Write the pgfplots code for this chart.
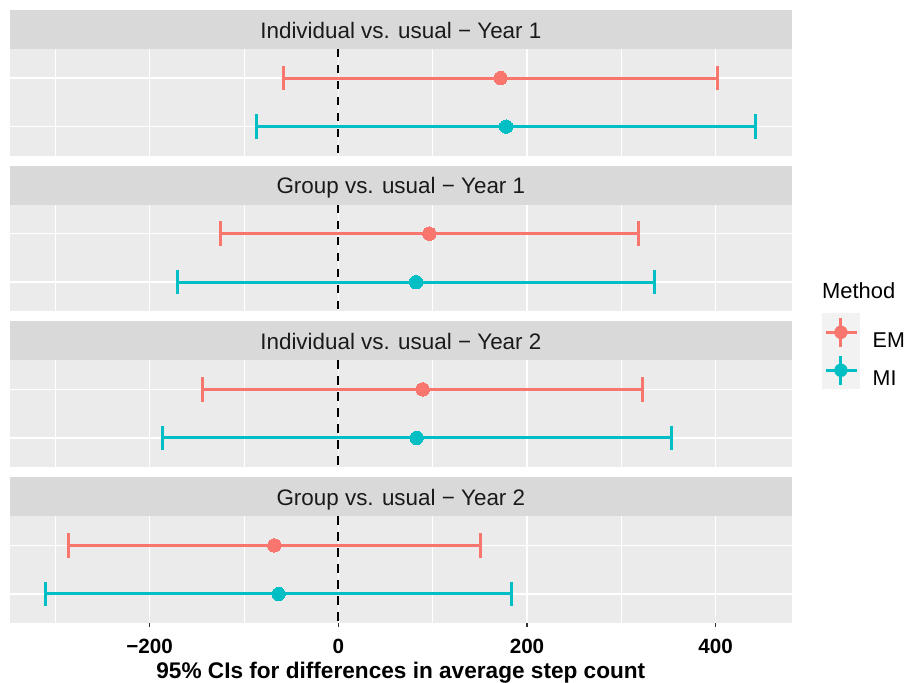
\documentclass[border=0pt]{standalone}
\usepackage{fontspec}
\setmainfont{Liberation Sans}
\usepackage{pgfplots}
\pgfplotsset{compat=1.18}
\definecolor{em}{HTML}{F8766D}
\definecolor{mi}{HTML}{00BFC4}
\definecolor{panelbg}{HTML}{EBEBEB}
\definecolor{stripbg}{HTML}{D9D9D9}
\definecolor{striptext}{HTML}{1A1A1A}
\definecolor{keybg}{HTML}{F2F2F2}
\definecolor{tickgrey}{HTML}{333333}

\pgfplotsset{
  facet/.style={
    scale only axis, width=781.7bp, height=106.7bp,
    xmin=-348, xmax=480.6, ymin=0.4, ymax=2.6,
    axis background/.style={fill=panelbg},
    axis line style={draw=none},
    xtick={-200,0,200,400},
    minor xtick={-300,-100,100,300},
    ytick={1,2}, yticklabels={},
    xmajorgrids, xminorgrids, ymajorgrids,
    major grid style={white, line width=1.4bp},
    minor grid style={white, line width=0.7bp},
    ytick style={draw=none},
    minor tick length=0pt,
    xticklabels={},
    xtick style={draw=none},
    extra description/.code={
      \fill[stripbg] (axis description cs:0,1) rectangle ([yshift=39bp]axis description cs:1,1);
      \node[anchor=base, text=striptext, font=\fontsize{22.5}{27}\selectfont, inner sep=0pt]
        at ([yshift=10.7bp]axis description cs:0.5,1) {#1};
    },
  },
  ci/.style={
    color=#1, only marks, mark=*, mark size=6.7bp, line width=3bp,
    mark options={solid, fill=#1, draw=#1, line width=0pt},
    legend image code/.code={
      \fill[keybg, draw=none] (0bp,-10.6bp) rectangle (38.3bp,27.4bp);
      \path[draw=none, fill=none] (0bp,0bp) rectangle (51bp,0.1bp);
      \draw[#1, line width=2.9bp, fill=none] (4bp,8.4bp) -- (35bp,8.4bp);
      \draw[#1, line width=2.9bp, fill=none] (19.15bp,-6.1bp) -- (19.15bp,22.9bp);
      \fill[#1, draw=none] (19.15bp,8.4bp) circle (6.7bp);
    },
    error bars/.cd, x dir=both, x explicit, error mark=|,
    error bar style={line width=3bp, #1},
    error mark options={line width=3bp, #1, mark size=12.3bp},
  },
  vline/.style={black, line width=1.9bp, dash pattern=on 8.5bp off 7.5bp, forget plot},
}

\begin{document}
\begin{tikzpicture}
\useasboundingbox (0,0) rectangle (906bp,683bp);

% Panel 1  (x = estimate, en/ep = distance to lower/upper CI limit)
\begin{axis}[facet={Individual vs. usual − Year 1}, at={(10bp,527.3bp)}, anchor=south west]
\addplot[vline] coordinates {(0,2.6) (0,0.4)};
\addplot[ci=em] table[x=x, y=y, x error minus=en, x error plus=ep] {
x y en ep
172.1 2 229.7 229.4
};
\addplot[ci=mi] table[x=x, y=y, x error minus=en, x error plus=ep] {
x y en ep
177.8 1 265.0 264.7
};
\end{axis}

% Panel 2
\begin{axis}[facet={Group vs. usual − Year 1}, at={(10bp,371.7bp)}, anchor=south west]
\addplot[vline] coordinates {(0,2.6) (0,0.4)};
\addplot[ci=em] table[x=x, y=y, x error minus=en, x error plus=ep] {
x y en ep
96.5 2 221.9 221.5
};
\addplot[ci=mi] table[x=x, y=y, x error minus=en, x error plus=ep] {
x y en ep
82.4 1 253.1 253.0
};
\end{axis}

% Panel 3 (holds the legend)
\begin{axis}[facet={Individual vs. usual − Year 2}, at={(10bp,216bp)}, anchor=south west,
  legend style={at={(1.0384,1.4405)}, anchor=north west, draw=none, fill=none,
    inner sep=0pt, outer sep=0pt, row sep=0pt, column sep=0pt,
    font=\fontsize{21.5}{26}\selectfont, nodes={inner sep=0pt}},
  legend cell align=left]
\addplot[vline] coordinates {(0,2.6) (0,0.4)};
\addplot[ci=em] table[x=x, y=y, x error minus=en, x error plus=ep] {
x y en ep
89.4 2 233.6 232.6
};
\addlegendentry{EM}
\addplot[ci=mi] table[x=x, y=y, x error minus=en, x error plus=ep] {
x y en ep
83.1 1 269.7 270.3
};
\addlegendentry{MI}
\end{axis}

% Panel 4
\begin{axis}[facet={Group vs. usual − Year 2}, at={(10bp,60bp)}, anchor=south west,
  xticklabels={−200,0,200,400},
  xtick style={draw=tickgrey, line width=1.1bp},
  major tick length=3.7bp, tick align=outside,
  xticklabel style={font=\fontsize{20.7}{24}\selectfont\bfseries, text=black, anchor=base, yshift=-26.5bp},
  xlabel={95\% CIs for differences in average step count},
  xlabel style={at={(axis description cs:0.5,0)}, anchor=base, yshift=-55.3bp, font=\fontsize{22.7}{27}\selectfont\bfseries, inner sep=0pt}]
\addplot[vline] coordinates {(0,2.6) (0,0.4)};
\addplot[ci=em] table[x=x, y=y, x error minus=en, x error plus=ep] {
x y en ep
-67.8 2 218.2 218.3
};
\addplot[ci=mi] table[x=x, y=y, x error minus=en, x error plus=ep] {
x y en ep
-63.2 1 247.4 246.6
};
\end{axis}

\node[anchor=base west, inner sep=0pt, font=\fontsize{22}{26}\selectfont] at (822bp,384.7bp) {Method};
\end{tikzpicture}
\end{document}
